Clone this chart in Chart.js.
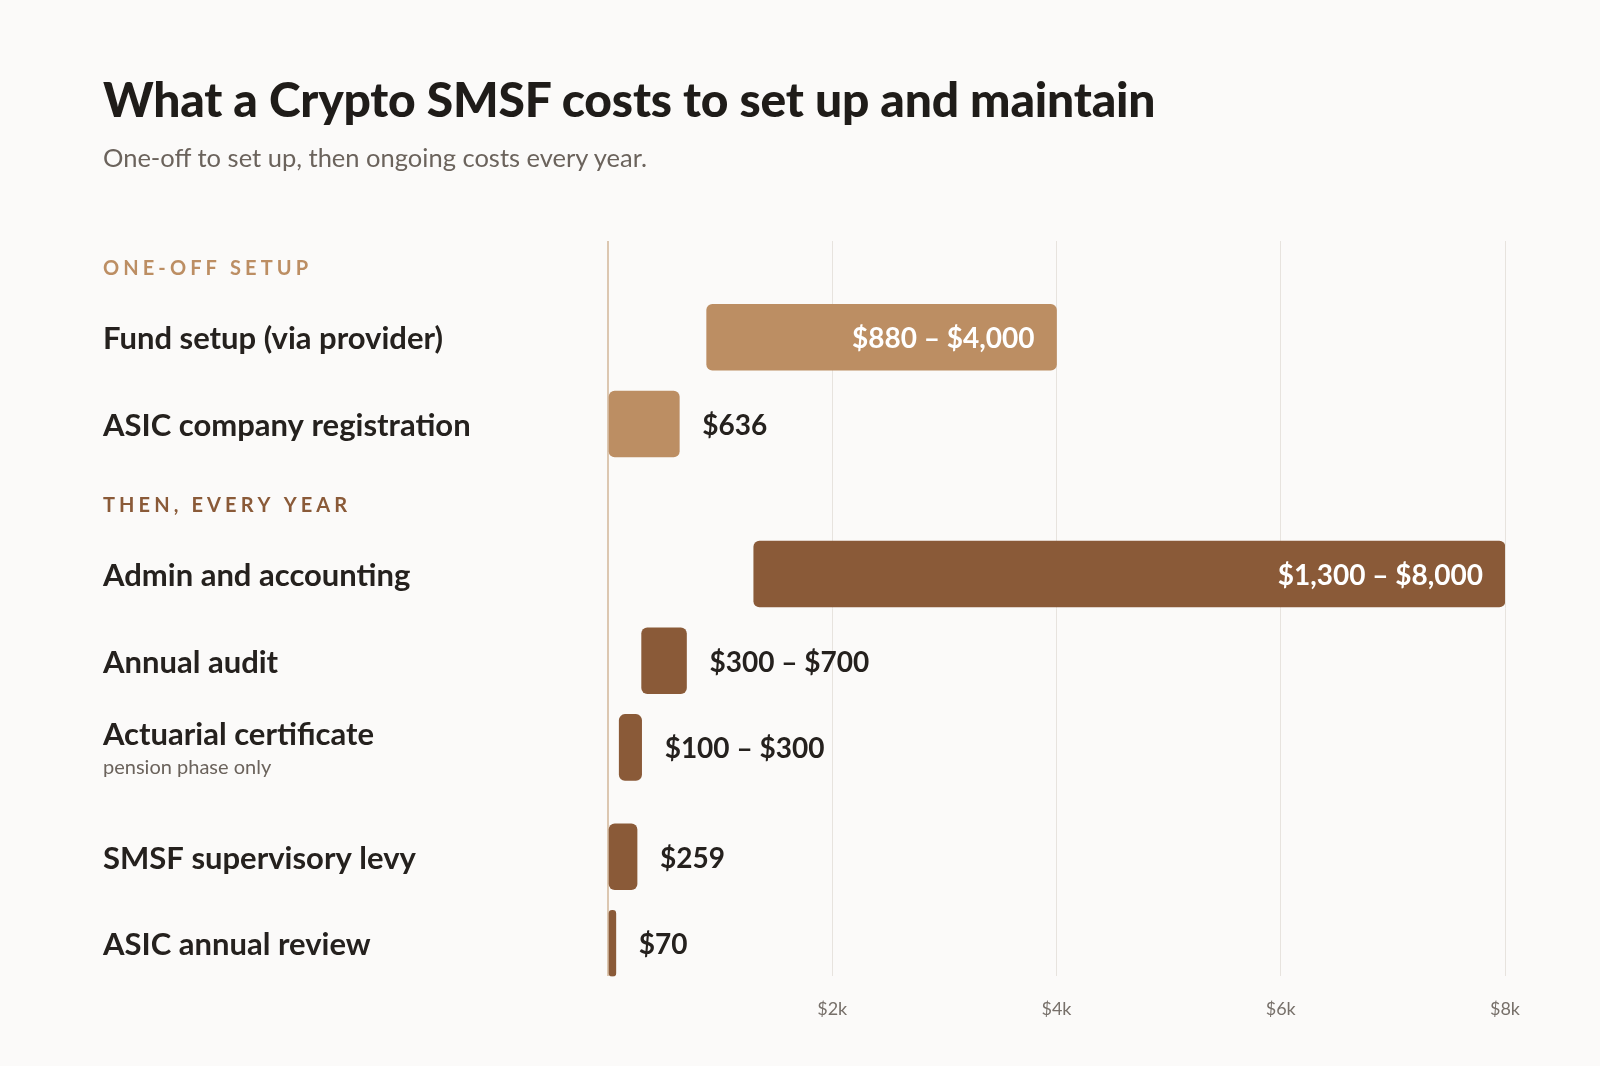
<!DOCTYPE html>
<html>
<head>
<meta charset="utf-8">
<script src="https://cdn.jsdelivr.net/npm/chart.js@4.4.1/dist/chart.umd.min.js"></script>
<style>
  html, body { margin: 0; padding: 0; background: #fbfaf9; }
  body { width: 1600px; height: 1066px; overflow: hidden; position: relative; font-family: Lato, "Noto Sans", sans-serif; }
  #title { position: absolute; left: 103px; top: 70px; margin: 0; font-size: 48px; font-weight: 900; color: #1f1c19; line-height: 1.2; white-space: nowrap; letter-spacing: -0.2px; }
  #subtitle { position: absolute; left: 103px; top: 142px; margin: 0; font-size: 25.5px; font-weight: 400; color: #6b635c; line-height: 1.2; white-space: nowrap; }
  #wrap { position: absolute; left: 0; top: 0; width: 1600px; height: 1066px; }
</style>
</head>
<body>
<div id="wrap"><canvas id="c" width="1600" height="1066"></canvas></div>
<h1 id="title">What a Crypto SMSF costs to set up and maintain</h1>
<p id="subtitle">One-off to set up, then ongoing costs every year.</p>
<script>
// ---- data ----
const groupNames = ['ONE-OFF SETUP', 'THEN, EVERY YEAR'];
const categories = ['Fund setup (via provider)', 'ASIC company registration', 'Admin and accounting', 'Annual audit', 'Actuarial certificate', 'SMSF supervisory levy', 'ASIC annual review'];
const categoryGroup = [0, 0, 1, 1, 1, 1, 1];
const categoryNotes = ['', '', '', '', 'pension phase only', '', ''];
const lowValues = [880, 0, 1300, 300, 100, 0, 0];
const highValues = [4000, 636, 8000, 700, 300, 259, 70];
const valueLabels = ['$880 – $4,000', '$636', '$1,300 – $8,000', '$300 – $700', '$100 – $300', '$259', '$70'];
const xTickValues = [2000, 4000, 6000, 8000];
const xTickLabels = ['$2k', '$4k', '$6k', '$8k'];

// ---- style / layout ----
const groupColors = ['#bc8e63', '#8a5a38'];
const LAYOUT = { top: 0.30, headerToItem: 0.81, item: 1.0, groupGap: 0.92, noteExtra: 0.26, bottom: 0.38 };
const TEXT_NUDGE = 2;

// compute row positions (layout units)
const rowPos = [];
const headerPos = [];
let pos = LAYOUT.top;
let prevGroup = -1;
let prevNote = false;
categories.forEach((c, i) => {
  const g = categoryGroup[i];
  if (g !== prevGroup) {
    if (prevGroup !== -1) pos += LAYOUT.groupGap;
    headerPos[g] = pos;
    pos += LAYOUT.headerToItem;
  } else {
    pos += LAYOUT.item + (prevNote ? LAYOUT.noteExtra : 0);
  }
  rowPos.push(pos);
  prevGroup = g;
  prevNote = !!categoryNotes[i];
});
const yMax = pos + LAYOUT.bottom;

const LABEL_FONT = '700 31px Lato';
const NOTE_FONT = '400 20px Lato';
const HEADER_FONT = '700 20px Lato';
const VALUE_FONT = '700 28px Lato';

const labelsPlugin = {
  id: 'rowLabels',
  afterDatasetsDraw(chart) {
    const ctx = chart.ctx;
    const ys = chart.scales.y;
    const meta = chart.getDatasetMeta(0);
    ctx.save();
    // section headers
    ctx.font = HEADER_FONT;
    ctx.textBaseline = 'middle';
    ctx.textAlign = 'left';
    groupNames.forEach((name, g) => {
      const y = ys.getPixelForValue(headerPos[g]) + TEXT_NUDGE;
      ctx.fillStyle = groupColors[g];
      let x = 103;
      for (const ch of name) {
        ctx.fillText(ch, x, y);
        x += ctx.measureText(ch).width + 4.1;
      }
    });
    // row labels
    categories.forEach((c, i) => {
      const y = ys.getPixelForValue(rowPos[i]) + TEXT_NUDGE;
      ctx.fillStyle = '#25211e';
      ctx.font = LABEL_FONT;
      if (categoryNotes[i]) {
        ctx.fillText(c, 103, y - 14);
        ctx.font = NOTE_FONT;
        ctx.fillStyle = '#6b635c';
        ctx.fillText(categoryNotes[i], 103, y + 18);
      } else {
        ctx.fillText(c, 103, y);
      }
    });
    // value labels
    ctx.font = VALUE_FONT;
    meta.data.forEach((bar, i) => {
      const left = Math.min(bar.x, bar.base);
      const right = Math.max(bar.x, bar.base);
      const w = ctx.measureText(valueLabels[i]).width;
      const y = bar.y + TEXT_NUDGE;
      if (right - left > w + 60) {
        ctx.fillStyle = '#ffffff';
        ctx.textAlign = 'right';
        ctx.fillText(valueLabels[i], right - 22, y);
      } else {
        ctx.fillStyle = '#25211e';
        ctx.textAlign = 'left';
        ctx.fillText(valueLabels[i], right + 23, y);
      }
    });
    ctx.restore();
  }
};

new Chart(document.getElementById('c'), {
  type: 'bar',
  data: {
    datasets: [{
      data: categories.map((c, i) => ({ x: [lowValues[i], highValues[i]], y: rowPos[i] })),
      backgroundColor: categoryGroup.map(g => groupColors[g]),
      borderRadius: 6,
      borderSkipped: false,
      barThickness: 66
    }]
  },
  options: {
    indexAxis: 'y',
    responsive: false,
    animation: false,
    layout: { padding: { left: 608, right: 95, top: 241, bottom: 24 } },
    plugins: { legend: { display: false }, tooltip: { enabled: false }, title: { display: false } },
    scales: {
      x: {
        type: 'linear',
        position: 'bottom',
        min: 0,
        max: 8000,
        afterBuildTicks: s => { s.ticks = [0, ...xTickValues].map(v => ({ value: v })); },
        border: { display: false },
        grid: {
          drawTicks: false,
          color: c => (c.tick && c.tick.value === 0) ? '#dcc7b1' : '#e7e3de',
          lineWidth: c => (c.tick && c.tick.value === 0) ? 2 : 1
        },
        ticks: {
          padding: 22,
          color: '#77706a',
          font: { family: 'Lato', size: 18, weight: '400' },
          maxRotation: 0,
          autoSkip: false,
          callback: (v) => { const k = xTickValues.indexOf(v); return k >= 0 ? xTickLabels[k] : ''; }
        }
      },
      y: { type: 'linear', reverse: true, offset: false, min: 0, max: yMax, display: false, grid: { offset: false } }
    }
  },
  plugins: [labelsPlugin]
});
</script>
</body>
</html>
